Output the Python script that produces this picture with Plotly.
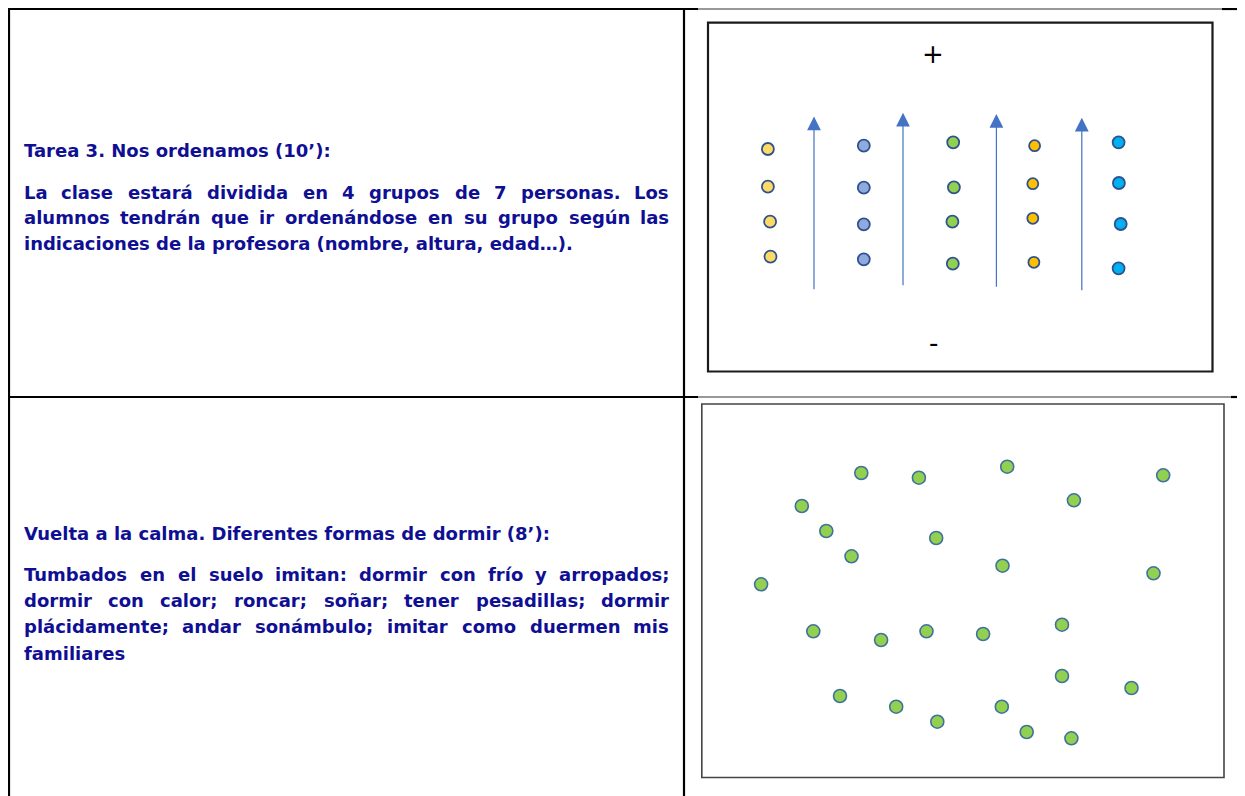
import plotly.graph_objects as go

# ---------------- DATA ----------------
title_top = "Tarea 3. Nos ordenamos (10’):"
para_top = [
    "La clase estará dividida en 4 grupos de 7 personas. Los",
    "alumnos tendrán que ir ordenándose en su grupo según las",
    "indicaciones de la profesora (nombre, altura, edad…).",
]
title_bottom = "Vuelta a la calma. Diferentes formas de dormir (8’):"
para_bottom = [
    "Tumbados en el suelo imitan: dormir con frío y arropados;",
    "dormir con calor; roncar; soñar; tener pesadillas; dormir",
    "plácidamente; andar sonámbulo; imitar como duermen mis",
    "familiares",
]

# top diagram: 5 columns of people (image pixel coordinates)
group_names = ["grupo 1", "grupo 2", "grupo 3", "grupo 4", "grupo 5"]
group_x = [
    [767.9, 767.9, 770.1, 770.5],
    [863.8, 863.8, 863.8, 863.8],
    [953.2, 953.9, 952.4, 952.8],
    [1034.6, 1032.8, 1032.8, 1033.9],
    [1118.6, 1118.9, 1120.7, 1118.6],
]
group_y = [
    [149.0, 186.7, 221.7, 256.7],
    [145.7, 187.7, 224.3, 259.3],
    [142.3, 187.3, 221.7, 263.7],
    [145.7, 183.7, 218.3, 262.3],
    [142.3, 183.0, 224.0, 268.3],
]
group_colors = ["#FFD966", "#8FAADC", "#92D050", "#FFC000", "#00B0F0"]
group_sizes = [12, 12, 12, 11, 12]

arrow_x = [814.0, 903.0, 996.4, 1081.8]
arrow_y_tail = [290.7, 286.7, 288.3, 291.7]
arrow_y_head = [116.5, 112.7, 114.0, 117.7]

sign_labels = ["+", "-"]
sign_x = [933.0, 933.0]
sign_y = [54.0, 343.0]

# bottom diagram: scattered people
scatter_x = [861.3, 918.9, 1007.2, 1163.2, 801.8, 1073.9, 826.3, 936.2, 851.5,
             1002.5, 1153.5, 761.1, 813.3, 881.1, 926.5, 983.1, 1062.0, 1062.0,
             1131.5, 840.0, 896.2, 937.3, 1001.8, 1026.7, 1071.4]
scatter_y = [473.0, 477.7, 466.7, 475.3, 506.0, 500.3, 531.0, 538.0, 556.3,
             565.7, 573.3, 584.3, 631.3, 640.0, 631.3, 634.0, 624.7, 676.0,
             688.0, 696.0, 706.7, 721.7, 706.7, 732.0, 738.3]

# ---------------- STYLE / HELPERS ----------------
W, H = 1245, 796
PAGE_OFF = 8  # default body margin of the html page
TXT_COLOR = "#0f0f94"
FONT = "DejaVu Sans"
FS = 18
TEXT_LEFT, TEXT_RIGHT = 23.0, 670.0

# approximate advance widths of DejaVu Sans Bold (em units)
_w = {" ": .348, "a": .675, "b": .716, "c": .593, "d": .716, "e": .678, "f": .435,
      "g": .716, "h": .712, "i": .343, "j": .343, "k": .665, "l": .343, "m": 1.042,
      "n": .712, "o": .687, "p": .716, "q": .716, "r": .493, "s": .595, "t": .478,
      "u": .712, "v": .652, "w": .924, "x": .645, "y": .652, "z": .582,
      "á": .675, "é": .678, "í": .343, "ó": .687, "ú": .712, "ñ": .712,
      "T": .682, "L": .637, "N": .837, "V": .774, "D": .830,
      ".": .380, ",": .380, ":": .400, ";": .400, "(": .457, ")": .457,
      "’": .380, "…": 1.0}


def text_w(s):
    return sum(_w.get(ch, .696 if ch.isdigit() else .7) for ch in s) * FS


annotations = []


def add_word(x, y, s, anchor):
    annotations.append(dict(x=x, y=y, xref="x", yref="y", text="<b>%s</b>" % s,
                            showarrow=False, xanchor=anchor, yanchor="middle",
                            font=dict(family=FONT, size=FS, color=TXT_COLOR),
                            borderpad=0))


def add_line(s, y, justify):
    if not justify:
        add_word(TEXT_LEFT, y, s, "left")
        return
    words = s.split(" ")
    widths = [text_w(wd) for wd in words]
    gap = (TEXT_RIGHT - TEXT_LEFT - sum(widths)) / (len(words) - 1)
    x = TEXT_LEFT
    for i, (wd, ww) in enumerate(zip(words, widths)):
        if i == 0:
            add_word(TEXT_LEFT, y, wd, "left")
        elif i == len(words) - 1:
            add_word(TEXT_RIGHT, y, wd, "right")
        else:
            add_word(x + ww / 2, y, wd, "center")
        x += ww + gap


def add_block(title, lines, y_title, y_first, spacing):
    add_line(title, y_title, False)
    for k, ln in enumerate(lines):
        add_line(ln, y_first + k * spacing, k < len(lines) - 1)


add_block(title_top, para_top, 150.5, 192.0, 25.7)
add_block(title_bottom, para_bottom, 533.0, 574.3, 26.3)

fig = go.Figure()

# arrows (top diagram)
for ax_, yt, yh in zip(arrow_x, arrow_y_tail, arrow_y_head):
    annotations.append(dict(x=ax_, y=yh, ax=ax_, ay=yt, xref="x", yref="y",
                            axref="x", ayref="y", text="", showarrow=True,
                            arrowhead=2, arrowsize=2.3, arrowwidth=1.2,
                            arrowcolor="#4472C4", standoff=0))

for lab, sx, sy in zip(sign_labels, sign_x, sign_y):
    annotations.append(dict(x=sx, y=sy, xref="x", yref="y", text=lab,
                            showarrow=False, xanchor="center", yanchor="middle",
                            font=dict(family="DejaVu Sans", size=26, color="#000000")))

for name, gx, gy, col, sz in zip(group_names, group_x, group_y, group_colors, group_sizes):
    fig.add_trace(go.Scatter(x=gx, y=gy, mode="markers", name=name,
                             marker=dict(size=sz, color=col,
                                         line=dict(color="#2F528F", width=1.8)),
                             hoverinfo="skip"))

fig.add_trace(go.Scatter(x=scatter_x, y=scatter_y, mode="markers", name="alumnos",
                         marker=dict(size=13, color="#92D050",
                                     line=dict(color="#41719C", width=1.6)),
                         hoverinfo="skip"))

# table structure and diagram frames
shapes = []


def seg(x0, y0, x1, y1, w, c="#000000"):
    shapes.append(dict(type="line", xref="x", yref="y", x0=x0, y0=y0, x1=x1, y1=y1,
                       line=dict(color=c, width=w), layer="below"))


seg(8, 9, 698, 9, 2.2)
seg(698, 9, 1222, 9, 1.0, "#333333")
seg(1222, 9, 1245, 9, 2.2)
seg(8, 397, 698, 397, 2.2)
seg(698, 397, 1231, 397, 1.0, "#333333")
seg(1231, 397, 1245, 397, 2.2)
seg(9, 8, 9, 796, 2.2)
seg(684, 8, 684, 796, 2.2)

shapes.append(dict(type="rect", xref="x", yref="y", x0=708, y0=22.7, x1=1212.5, y1=371.5,
                   line=dict(color="#1a1a1a", width=2.2), layer="below"))
shapes.append(dict(type="rect", xref="x", yref="y", x0=701.8, y0=404, x1=1224, y1=777.5,
                   line=dict(color="#444444", width=1.6), layer="below"))

fig.update_layout(
    width=W - PAGE_OFF, height=H - PAGE_OFF,
    margin=dict(l=0, r=0, t=0, b=0),
    paper_bgcolor="#ffffff", plot_bgcolor="#ffffff",
    showlegend=False,
    xaxis=dict(range=[PAGE_OFF, W], visible=False, fixedrange=True),
    yaxis=dict(range=[H, PAGE_OFF], visible=False, fixedrange=True),
    shapes=shapes,
    annotations=annotations,
)

fig.write_html("out.html", config={"displayModeBar": False})
